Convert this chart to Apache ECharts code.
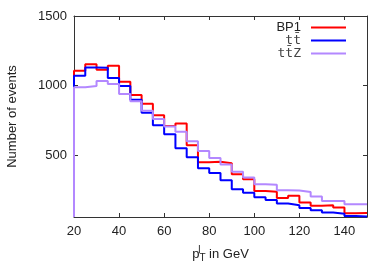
<!DOCTYPE html>
<html>
<head>
<meta charset="utf-8">
<script src="https://cdn.jsdelivr.net/npm/echarts@6/dist/echarts.min.js"></script>
<style>
html,body{margin:0;padding:0;background:#fff;}
#chart{width:392px;height:274px;}
</style>
</head>
<body>
<div id="chart"></div>
<script>
// bin edges in GeV (5 GeV bins)
var binEdges = [20,25,30,35,40,45,50,55,60,65,70,75,80,85,90,95,100,105,110,115,120,125,130,135,140,145,150];
var seriesNames = ['BP1', 'tt\u0304', 'tt\u0304Z'];
var bp1 = [1106,1154,1113,1142,1028,932,870,787,710,728,571,448,452,441,362,326,242,237,192,208,160,136,140,124,82,84];
var ttbar = [1070,1130,1128,1055,997,898,805,715,650,550,485,406,372,320,255,230,197,178,152,140,120,104,87,78,63,58];
var ttbarZ = [988,997,1033,1012,940,888,819,760,705,668,600,530,480,433,380,339,291,286,248,245,234,202,170,170,147,147];
var xTicks = [20,40,60,80,100,120,140];
var yTicks = [500,1000,1500];
var yMin = 55, yMax = 1500, xMin = 20, xMax = 150;

function stepPoints(vals){
  var pts = [[binEdges[0], yMin]];
  for (var i = 0; i < vals.length; i++) pts.push([binEdges[i], vals[i]]);
  pts.push([binEdges[binEdges.length-1], vals[vals.length-1]]);
  return pts;
}
var colors = ['#ff0000', '#0000ff', '#b388ff'];
var allVals = [bp1, ttbar, ttbarZ];

var axisCol = '#333';
var txtCol = '#222';
var fontFam = 'Liberation Sans, Arial, sans-serif';

function xAx(pos, showLabels){
  return {
    type:'value', position:pos, min:xMin, max:xMax, interval:20,
    axisLine:{show:true, onZero:false, lineStyle:{color:axisCol, width:1}},
    axisTick:{show:true, inside:true, length:4, lineStyle:{color:axisCol}, customValues:xTicks},
    axisLabel:{show:showLabels, customValues:xTicks, color:txtCol, fontSize:13, fontFamily:fontFam, margin:8,
      formatter:function(v){return String(v);}},
    splitLine:{show:false},
    name: showLabels ? '{p|p}{sup|l}{sub|T}{t| in GeV}' : '',
    nameLocation:'middle', nameGap:28,
    nameTextStyle:{color:txtCol, fontSize:13, fontFamily:fontFam,
      rich:{
        p:{fontSize:13, fontFamily:fontFam, color:txtCol},
        sup:{fontSize:10, fontFamily:fontFam, color:txtCol, verticalAlign:'bottom', padding:[0,0,8,0], width:0},
        sub:{fontSize:10, fontFamily:fontFam, color:txtCol, verticalAlign:'top', padding:[8,0,0,0]},
        t:{fontSize:13, fontFamily:fontFam, color:txtCol}
      }}
  };
}
function yAx(pos, showLabels){
  return {
    type:'value', position:pos, min:yMin, max:yMax,
    axisLine:{show:true, onZero:false, lineStyle:{color:axisCol, width:1}},
    axisTick:{show:true, inside:true, length:4, lineStyle:{color:axisCol}, customValues:yTicks},
    axisLabel:{show:showLabels, customValues:yTicks, color:txtCol, fontSize:13, fontFamily:fontFam, margin:7,
      formatter:function(v){return String(v);}},
    splitLine:{show:false},
    name: showLabels ? 'Number of events' : '',
    nameLocation:'middle', nameGap:55, nameRotate:90,
    nameTextStyle:{color:txtCol, fontSize:13, fontFamily:fontFam}
  };
}

var series = seriesNames.map(function(n, k){
  return {
    name:n, type:'line', step:'end', xAxisIndex:0, yAxisIndex:0,
    data: stepPoints(allVals[k]), showSymbol:false, symbol:'none',
    lineStyle:{color:colors[k], width:2}, itemStyle:{color:colors[k]},
    animation:false, z:2+k
  };
});

var chart = echarts.init(document.getElementById('chart'), null, {renderer:'canvas'});
chart.setOption({
  animation:false,
  backgroundColor:'#fff',
  grid:{left:74, right:25, top:16, bottom:57, containLabel:false, outerBoundsMode:'none'},
  xAxis:[xAx('bottom', true), xAx('top', false)],
  yAxis:[yAx('left', true), yAx('right', false)],
  legend:{
    orient:'vertical', right:41, top:16, align:'right',
    itemWidth:35, itemHeight:2, itemGap:0, icon:'rect',
    formatter:function(n){ return n === 'BP1' ? '{a|' + n + '}' : '{b|' + n + '}'; },
    textStyle:{color:txtCol, fontSize:13, fontFamily:fontFam, padding:[0,5,0,0],
      rich:{
        a:{fontSize:13, fontFamily:fontFam, color:txtCol, lineHeight:14},
        b:{fontSize:13, fontFamily:'DejaVu Sans Mono, DejaVu Sans, monospace', color:'#444', lineHeight:14}
      }},
    data:seriesNames
  },
  series:series
});
</script>
</body>
</html>
